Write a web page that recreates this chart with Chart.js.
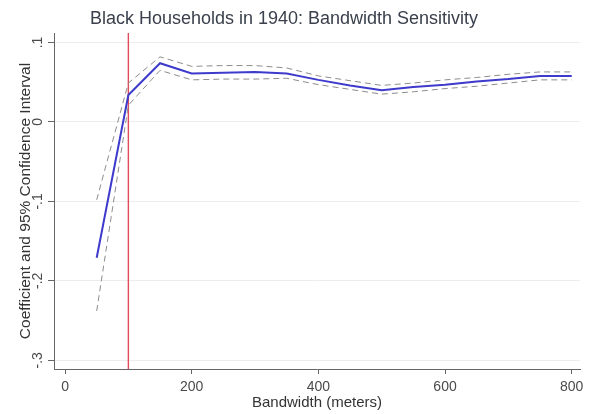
<!DOCTYPE html>
<html>
<head>
<meta charset="utf-8">
<script src="https://cdn.jsdelivr.net/npm/chart.js@4"></script>
<style>
html,body{margin:0;padding:0;background:#fff;}
canvas{display:block;}
</style>
</head>
<body>
<canvas id="c" width="596" height="414"></canvas>
<script>
// ---- data ----
const bandwidths = [50, 100, 150, 200, 250, 300, 350, 400, 450, 500, 550, 600, 650, 700, 750, 800];
const coefficients = [-0.171, 0.034, 0.074, 0.061, 0.062, 0.063, 0.061, 0.053, 0.046, 0.040, 0.044, 0.047, 0.051, 0.054, 0.058, 0.058];
const upperCI = [-0.098, 0.049, 0.082, 0.070, 0.071, 0.071, 0.068, 0.058, 0.052, 0.046, 0.049, 0.053, 0.056, 0.060, 0.063, 0.063];
const lowerCI = [-0.238, 0.021, 0.065, 0.053, 0.054, 0.054, 0.055, 0.047, 0.041, 0.035, 0.038, 0.042, 0.045, 0.049, 0.053, 0.053];
const cutoffX = [100, 100];
const yTickValues = [-0.3, -0.2, -0.1, 0, 0.1];
const yTickLabels = ['-.3', '-.2', '-.1', '0', '.1'];
const xTickValues = [0, 200, 400, 600, 800];
const xTickLabels = ['0', '200', '400', '600', '800'];

const Y_MIN = -0.311, Y_MAX = 0.112;
const X_MIN = -17.4, X_MAX = 813.1;
const cutoffY = [Y_MIN, Y_MAX];

const pts = (xs, ys) => xs.map((x, i) => ({x: x, y: ys[i]}));
const FONT = "'Liberation Sans', Arial, sans-serif";

const titleShift = {
  id: 'titleShift',
  afterLayout(chart) {
    if (chart.titleBlock) { chart.titleBlock.right -= 12; }
  }
};

new Chart(document.getElementById('c'), {
  type: 'line',
  data: {
    datasets: [
      { label: 'Upper 95% CI', data: pts(bandwidths, upperCI), borderColor: '#8c8c8c', borderWidth: 1, borderDash: [6, 4], pointRadius: 0, fill: false, tension: 0 },
      { label: 'Lower 95% CI', data: pts(bandwidths, lowerCI), borderColor: '#8c8c8c', borderWidth: 1, borderDash: [6, 4], pointRadius: 0, fill: false, tension: 0 },
      { label: 'Coefficient', data: pts(bandwidths, coefficients), borderColor: '#3d3acc', borderWidth: 2, pointRadius: 0, fill: false, tension: 0 },
      { label: 'Cutoff', data: pts(cutoffX, cutoffY), borderColor: '#de4c5a', borderWidth: 1.4, pointRadius: 0, fill: false, tension: 0 }
    ]
  },
  options: {
    responsive: false,
    animation: false,
    devicePixelRatio: 1,
    layout: { padding: { left: 0, right: 16, top: 0, bottom: 0 } },
    plugins: {
      legend: { display: false },
      tooltip: { enabled: false },
      title: {
        display: true,
        text: 'Black Households in 1940: Bandwidth Sensitivity',
        color: '#3a414c',
        font: { family: FONT, size: 18, weight: 'normal', lineHeight: 1.2 },
        padding: { top: 8, bottom: 3.4 }
      }
    },
    scales: {
      x: {
        type: 'linear',
        min: X_MIN, max: X_MAX,
        afterBuildTicks: (s) => { s.ticks = xTickValues.map(v => ({value: v})); },
        afterFit: (s) => { s.height = 45; },
        ticks: {
          callback: (v) => { const i = xTickValues.indexOf(v); return i >= 0 ? xTickLabels[i] : ''; },
          color: '#4a4a4a', font: { family: FONT, size: 14 }, padding: 5, maxRotation: 0, minRotation: 0
        },
        grid: { drawOnChartArea: false, drawTicks: true, tickLength: 5, tickColor: '#666', tickWidth: 1 },
        border: { display: true, color: '#666', width: 1 },
        title: { display: true, text: 'Bandwidth (meters)', color: '#333', font: { family: FONT, size: 15 }, padding: { top: 0, bottom: 2 } }
      },
      y: {
        type: 'linear',
        min: Y_MIN, max: Y_MAX,
        afterBuildTicks: (s) => { s.ticks = yTickValues.map(v => ({value: v})); },
        afterFit: (s) => { s.width = 54; },
        ticks: {
          callback: (v) => { const i = yTickValues.findIndex(t => Math.abs(t - v) < 1e-9); return i >= 0 ? yTickLabels[i] : ''; },
          color: '#4a4a4a', font: { family: FONT, size: 14 }, padding: 1.5, minRotation: 90, maxRotation: 90, crossAlign: 'center'
        },
        grid: { drawOnChartArea: true, color: '#ededed', lineWidth: 1, drawTicks: true, tickLength: 6, tickColor: '#666', tickWidth: 1 },
        border: { display: true, color: '#666', width: 1 },
        title: { display: true, text: 'Coefficient and 95% Confidence Interval', color: '#333', font: { family: FONT, size: 15.5 }, padding: { top: 16, bottom: 0 } }
      }
    }
  },
  plugins: [titleShift]
});
</script>
</body>
</html>
